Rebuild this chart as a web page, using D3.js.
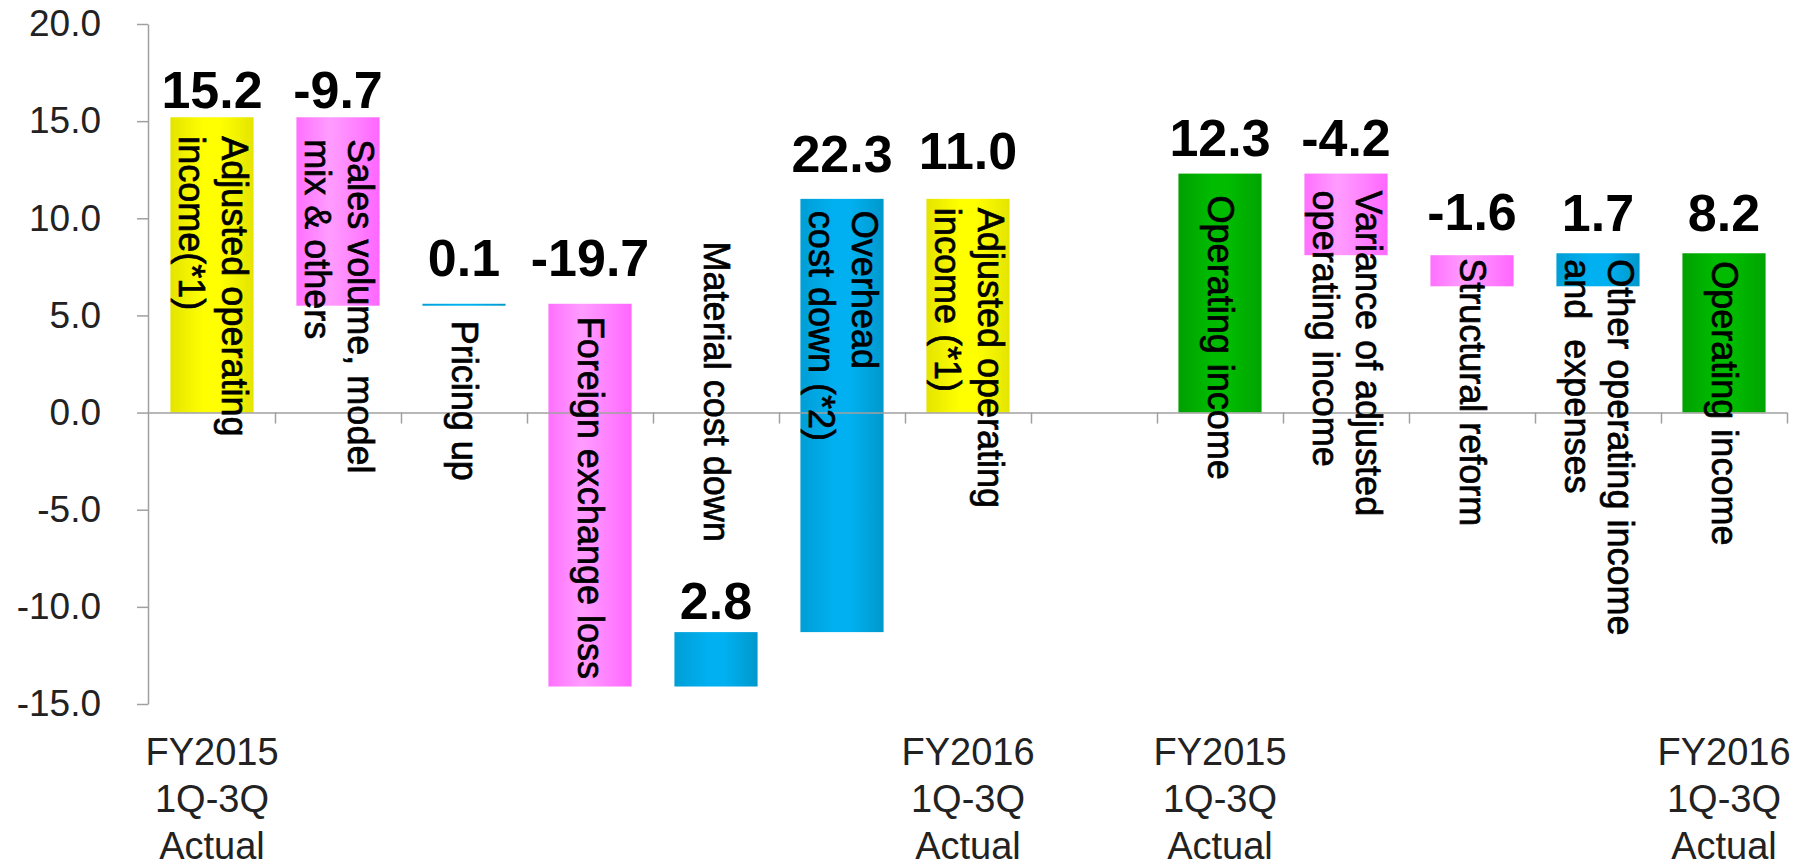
<!DOCTYPE html>
<html>
<head>
<meta charset="utf-8">
<script src="https://d3js.org/d3.v7.min.js"></script>
<style>
body { margin: 0; background: #fff; }
text { font-family: 'Liberation Sans', Arial, Helvetica, sans-serif; }
</style>
</head>
<body>
<svg id="chart" width="1798" height="866"></svg>
<script>
// ---- data ----
var categories = [
  ["Adjusted operating", "income(*1)"],
  ["Sales volume, model", "mix & others"],
  ["Pricing up"],
  ["Foreign exchange loss"],
  ["Material cost down"],
  ["Overhead", "cost down (*2)"],
  ["Adjusted operating", "income (*1)"],
  [],
  ["Operating income"],
  ["Variance of adjusted", "operating income"],
  ["Structural reform"],
  ["Other operating income", "and  expenses"],
  ["Operating income"]
];
var values = [15.2, -9.7, 0.1, -19.7, 2.8, 22.3, 11.0, null, 12.3, -4.2, -1.6, 1.7, 8.2];
// total = yellow subtotal, result = green subtotal, up / down = steps
var barTypes = ["total", "down", "up", "down", "up", "up", "total", "none", "result", "down", "down", "up", "result"];
var periodLabels = [
  ["FY2015", "1Q-3Q", "Actual"], null, null, null, null, null,
  ["FY2016", "1Q-3Q", "Actual"], null,
  ["FY2015", "1Q-3Q", "Actual"], null, null, null,
  ["FY2016", "1Q-3Q", "Actual"]
];
var yTicks = [-15, -10, -5, 0, 5, 10, 15, 20];

// ---- layout tweaks (px) ----
var valueGap = [9, 9, 28, 28, 13, 27, 30, 0, 18, 18, 25, 22, 22];
var textGap = [19, 22, 17, 13, 0, 12, 9, 0, 22, 17, 3, 6, 8];
var textAnchorVal = [null, null, null, null, 8.8, null, null, null, null, null, null, null, null];

var svg = d3.select("#chart");
var width = 1798, height = 866;

var y = d3.scaleLinear().domain([-15, 20]).range([704, 24]);
var x = d3.scaleBand().domain(d3.range(categories.length))
  .range([149, 1787]).paddingInner(0.34).paddingOuter(0.17);
var xEdge = d3.scaleLinear().domain([0, categories.length]).range([149, 1787]);

// waterfall
var running = 0;
var bars = [];
values.forEach(function(v, i) {
  var t = barTypes[i];
  if (t === "none") return;
  var from, to;
  if (t === "total" || t === "result") { from = 0; to = v; }
  else { from = running; to = running + v; }
  running = to;
  bars.push({i: i, from: from, to: to, value: v, type: t});
});

// gradients
var grads = {
  total:  ["#e4e400", "#ffff00", "#ffff00", "#e4e400"],
  result: ["#00a000", "#00bb00", "#00bb00", "#00a400"],
  up:     ["#009ed6", "#00b0f0", "#00b0f0", "#0098cc"],
  down:   ["#ff70ff", "#ff9cff", "#ff8cff", "#ff66ff"]
};
var defs = svg.append("defs");
Object.keys(grads).forEach(function(k) {
  var g = defs.append("linearGradient").attr("id", "g_" + k)
    .attr("x1", 0).attr("x2", 1).attr("y1", 0).attr("y2", 0);
  var offs = [0, 0.4, 0.6, 1];
  grads[k].forEach(function(c, j) {
    g.append("stop").attr("offset", offs[j]).attr("stop-color", c);
  });
});

// bars
svg.append("g").selectAll("rect")
  .data(bars)
  .enter().append("rect")
  .attr("x", function(d) { return x(d.i); })
  .attr("width", x.bandwidth())
  .attr("y", function(d) { return y(Math.max(d.from, d.to)); })
  .attr("height", function(d) { return Math.max(1.5, Math.abs(y(d.from) - y(d.to))); })
  .attr("fill", function(d) { return "url(#g_" + d.type + ")"; });

// y axis
var yAxis = svg.append("g")
  .attr("transform", "translate(148,0)")
  .call(d3.axisLeft(y).tickValues(yTicks)
    .tickFormat(function(d) { return d.toFixed(1); })
    .tickSize(11).tickSizeOuter(0).tickPadding(36));
yAxis.select(".domain").attr("stroke", "#a0a0a0").attr("stroke-width", 1.5);
yAxis.selectAll(".tick line").attr("stroke", "#a0a0a0").attr("stroke-width", 1.5);
yAxis.selectAll(".tick text").attr("font-size", 37).attr("fill", "#222")
  .attr("font-family", "'Liberation Sans', Arial, sans-serif");

// x axis at zero
var xAxis = svg.append("g")
  .attr("transform", "translate(0," + y(0) + ")")
  .call(d3.axisBottom(xEdge).tickValues(d3.range(1, categories.length + 1))
    .tickFormat("").tickSize(11).tickSizeOuter(0));
xAxis.select(".domain").attr("stroke", "#a0a0a0").attr("stroke-width", 1.5)
  .attr("d", "M148,0.5H1787");
xAxis.selectAll(".tick line").attr("stroke", "#a0a0a0").attr("stroke-width", 1.5);

// value labels
svg.append("g").selectAll("text")
  .data(bars)
  .enter().append("text")
  .attr("x", function(d) { return x(d.i) + x.bandwidth() / 2; })
  .attr("y", function(d) { return y(Math.max(d.from, d.to)) - valueGap[d.i]; })
  .attr("text-anchor", "middle")
  .attr("font-size", 52)
  .attr("font-weight", "bold")
  .attr("fill", "#000")
  .text(function(d) { return d.value.toFixed(1); });

// rotated category labels
var fs = 36, lh = 43;
var lab = svg.append("g").selectAll("g")
  .data(bars)
  .enter().append("g")
  .attr("transform", function(d) {
    var cx = x(d.i) + x.bandwidth() / 2;
    var top = textAnchorVal[d.i] != null ? y(textAnchorVal[d.i]) : y(Math.max(d.from, d.to)) + textGap[d.i];
    return "translate(" + cx + "," + top + ") rotate(90)";
  });
lab.each(function(d) {
  var lines = categories[d.i];
  var n = lines.length;
  var g = d3.select(this);
  lines.forEach(function(s, k) {
    g.append("text")
      .attr("x", 0)
      .attr("y", (k - (n - 1) / 2) * lh + 0.33 * fs)
      .attr("font-size", fs)
      .attr("fill", "#000")
      .attr("stroke", "#000")
      .attr("stroke-width", 0.7)
      .style("white-space", "pre")
      .text(s);
  });
});

// period labels under the chart
var per = svg.append("g").selectAll("g")
  .data(periodLabels.map(function(p, i) { return {i: i, p: p}; }).filter(function(d) { return d.p; }))
  .enter().append("g");
per.each(function(d) {
  var g = d3.select(this);
  var cx = x(d.i) + x.bandwidth() / 2;
  d.p.forEach(function(s, k) {
    g.append("text")
      .attr("x", cx)
      .attr("y", 765 + k * 47)
      .attr("text-anchor", "middle")
      .attr("font-size", 38)
      .attr("fill", "#222")
      .text(s);
  });
});
</script>
</body>
</html>
